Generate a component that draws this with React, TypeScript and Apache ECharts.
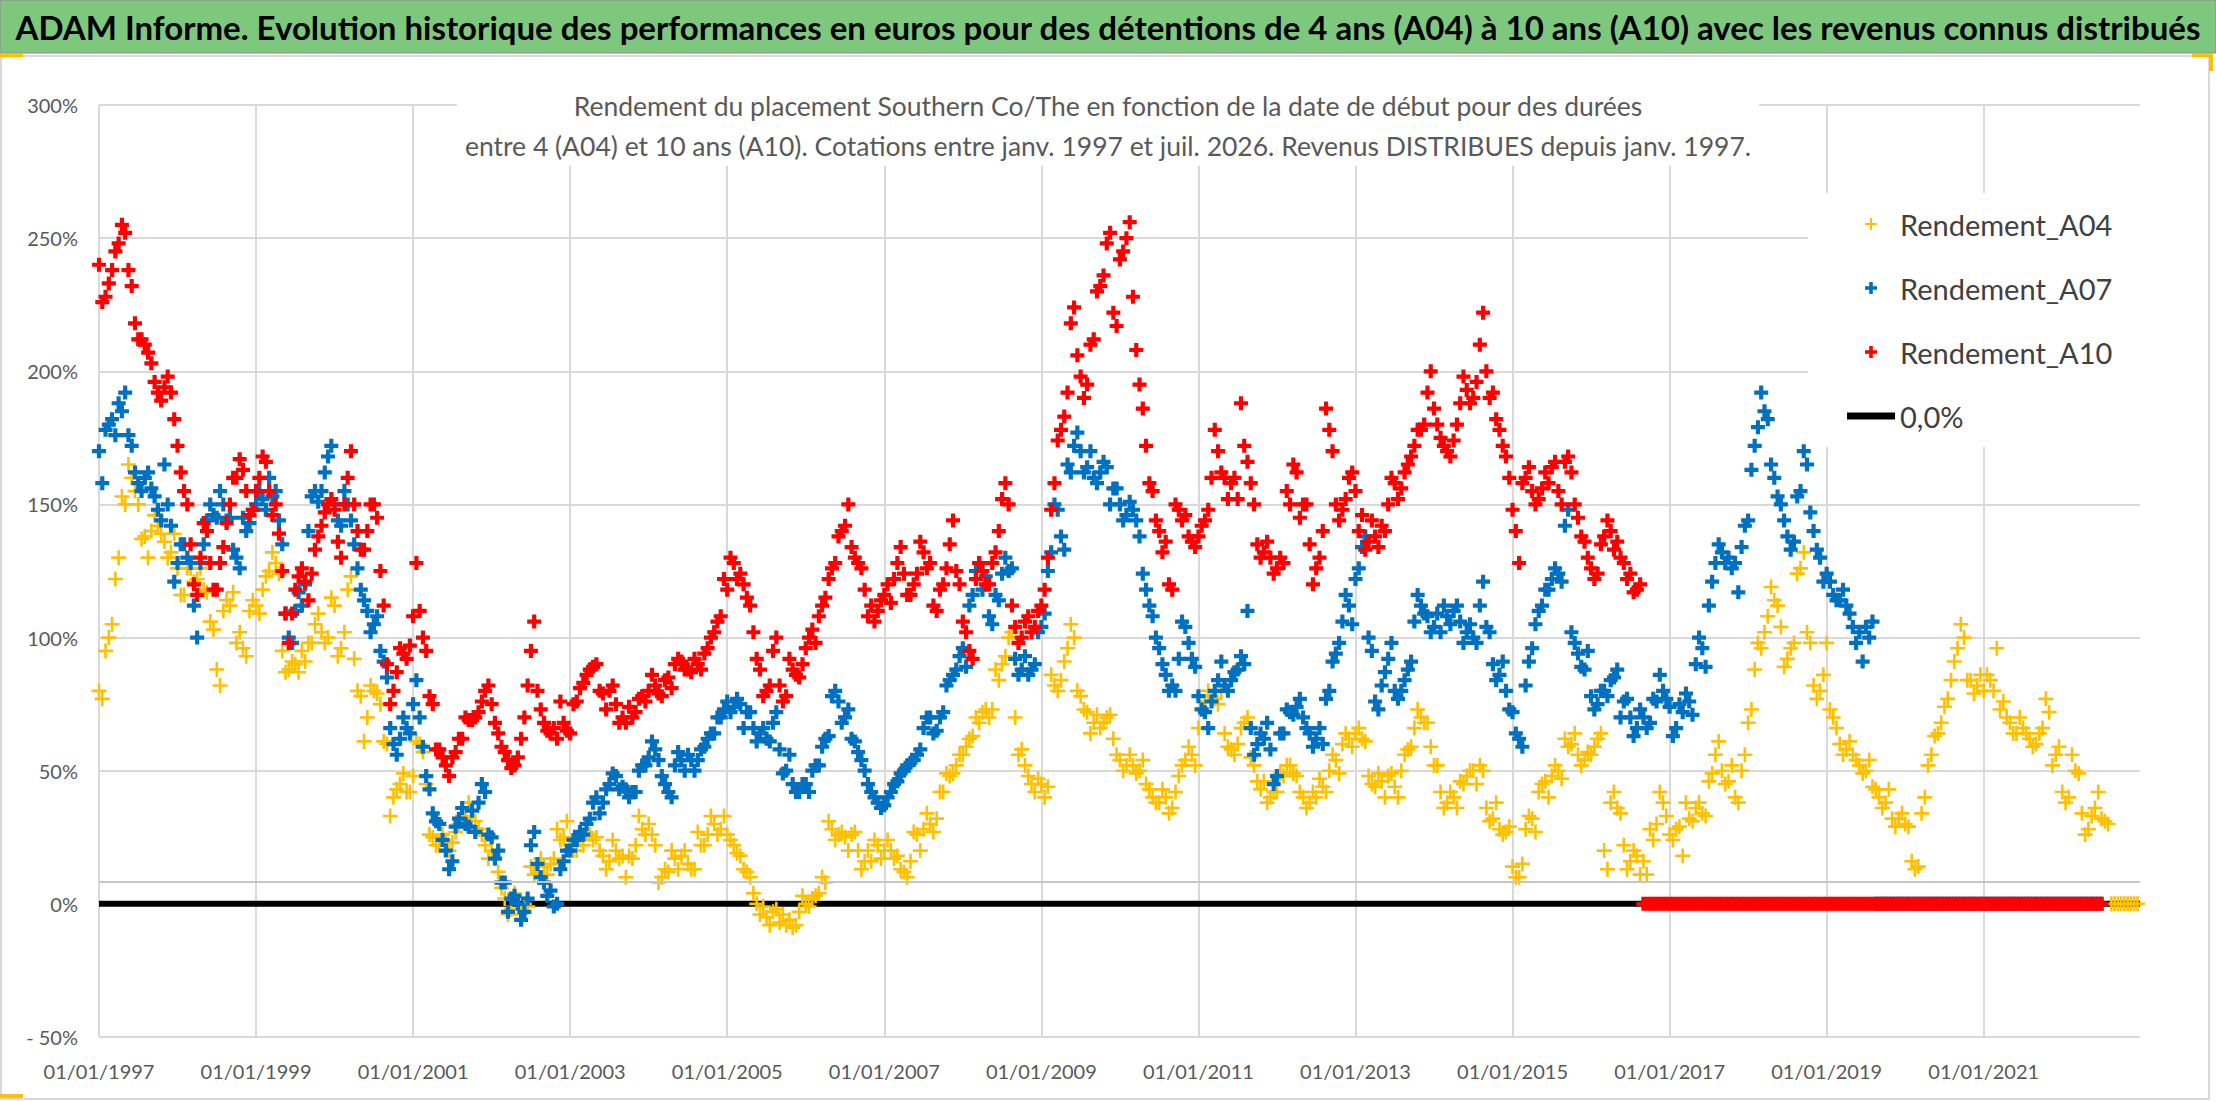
import React, { useEffect, useRef } from "react";
import * as echarts from "echarts";

// ---- Data: start 01/1997, one value per month
//      (…Debut = 1st of month, …Milieu = mid-month) ----
const startYear = 1997;
const endYear = 2022.99;

const rendementA04Debut = [
  80, 95, 105, 130, 150, 160, 150, 138, 140, 142, 136, 132,
  126, 116, 126, 122, 118, 106, 88, 110, 112, 98, 96, 110,
  112, 118, 125, 128, 95, 88, 90, 95, 98, 105, 102, 100,
  112, 96, 118, 92, 78, 70, 80, 75, 60, 40, 45, 42,
  48, 60, 45, 25, 22, 24, 23, 30, 32, 35, 28, 22,
  20, 12, 2, -2, 0, 0, 14, 12, 14, 15, 28, 25,
  22, 20, 22, 26, 25, 18, 16, 20, 18, 18, 22, 28,
  30, 22, 10, 12, 17, 18, 15, 13, 22, 26, 30, 28,
  26, 22, 18, 12, 4, -4, -5, -3, -7, -8, -9, -3,
  0, 2, 4, 8, 28, 26, 25, 26, 20, 16, 16, 22,
  20, 20, 18, 12, 16, 26, 28, 30, 32, 42, 48, 52,
  56, 62, 70, 72, 70, 88, 90, 100, 70, 58, 48, 42,
  45, 44, 82, 84, 96, 100, 78, 72, 68, 66, 70, 62,
  54, 52, 52, 50, 45, 40, 38, 40, 36, 48, 54, 56,
  66, 76, 78, 75, 64, 58, 60, 68, 55, 46, 46, 40,
  42, 48, 52, 48, 40, 38, 40, 44, 50, 54, 60, 62,
  64, 62, 48, 44, 46, 48, 44, 50, 58, 66, 70, 68,
  52, 42, 38, 40, 46, 48, 50, 52, 36, 32, 28, 27,
  14, 10, 28, 32, 42, 46, 48, 50, 62, 60, 56, 54,
  56, 62, 20, 38, 36, 22, 16, 18, 16, 28, 30, 38,
  26, 28, 18, 32, 36, 34, 46, 56, 50, 46, 40, 50,
  68, 88, 96, 108, 114, 104, 92, 98, 126, 102, 82, 80,
  98, 70, 60, 58, 56, 52, 50, 44, 40, 38, 32, 32,
  30, 16, 14, 40, 56, 64, 74, 84, 96, 100, 84, 82,
  80, 84, 96, 76, 68, 64, 66, 62, 60, 66, 72, 56,
  42, 40, 50, 34, 28, 36, 32, 30, 0, 0, 0, 0,
  0,
];

const rendementA04Milieu = [
  77, 100, 122, 153, 165, 155, 137, 130, 146, 139, 130, 139,
  116, 126, 121, 126, 117, 103, 82, 114, 117, 102, 93, 114,
  109, 123, 132, 124, 87, 91, 87, 91, 98, 109, 98, 115,
  93, 102, 123, 80, 61, 82, 79, 61, 33, 43, 49, 42,
  61, 57, 26, 22, 26, 20, 27, 33, 38, 31, 26, 17,
  17, 6, -4, 4, -4, -1, 11, 17, 11, 17, 24, 31,
  20, 24, 27, 24, 20, 13, 24, 17, 10, 17, 33, 26,
  26, 8, 13, 20, 13, 20, 13, 27, 22, 33, 26, 33,
  24, 19, 13, 10, 0, -1, -8, -2, -4, -6, -8, 3,
  -1, 3, 10, 31, 24, 27, 20, 27, 13, 20, 24, 17,
  24, 17, 13, 10, 27, 20, 34, 27, 42, 49, 49, 56,
  59, 63, 68, 73, 73, 84, 93, 102, 56, 52, 45, 47,
  40, 86, 80, 91, 105, 80, 73, 64, 71, 68, 71, 56,
  50, 56, 49, 54, 43, 38, 43, 34, 42, 52, 59, 52,
  73, 80, 77, 80, 59, 56, 66, 70, 52, 43, 38, 42,
  49, 52, 49, 42, 36, 42, 47, 42, 56, 49, 64, 59,
  66, 61, 45, 49, 40, 49, 40, 56, 59, 73, 68, 59,
  52, 36, 42, 36, 45, 50, 45, 50, 31, 38, 26, 29,
  10, 15, 33, 27, 45, 40, 52, 47, 59, 64, 52, 57,
  59, 64, 13, 42, 34, 13, 20, 11, 11, 24, 42, 33,
  24, 29, 38, 31, 38, 33, 49, 61, 45, 52, 38, 56,
  73, 98, 102, 119, 112, 89, 96, 124, 132, 98, 77, 86,
  73, 66, 56, 61, 54, 49, 54, 43, 36, 43, 29, 34,
  29, 13, 34, 52, 63, 68, 77, 91, 105, 84, 79, 86,
  86, 80, 73, 70, 64, 70, 64, 59, 64, 77, 52, 59,
  38, 56, 49, 26, 33, 42, 31, 0, 0, 0, 0, 0,
];

const rendementA07Debut = [
  170, 178, 182, 188, 192, 172, 158, 160, 156, 148, 165, 142,
  128, 135, 128, 100, 135, 150, 145, 150, 145, 130, 145, 143,
  150, 152, 160, 155, 135, 100, 110, 112, 140, 155, 155, 168,
  150, 142, 150, 135, 118, 110, 105, 95, 85, 60, 62, 66,
  75, 70, 48, 34, 30, 20, 16, 32, 30, 35, 38, 42,
  25, 20, 8, 2, 0, -3, 22, 15, 8, 5, 0, 16,
  20, 24, 26, 32, 40, 38, 45, 48, 44, 40, 42, 52,
  55, 58, 48, 42, 52, 54, 56, 50, 58, 62, 64, 70,
  76, 74, 75, 72, 66, 64, 62, 68, 58, 50, 45, 42,
  45, 50, 52, 62, 78, 76, 70, 62, 57, 50, 42, 38,
  37, 42, 46, 50, 53, 56, 66, 70, 65, 72, 84, 88,
  96, 112, 125, 118, 108, 116, 124, 125, 92, 88, 86, 90,
  104, 125, 150, 138, 165, 172, 170, 164, 160, 162, 164, 156,
  150, 146, 148, 138, 118, 108, 96, 86, 82, 92, 104, 92,
  78, 72, 76, 84, 82, 84, 88, 90, 66, 60, 62, 58,
  48, 64, 72, 74, 70, 64, 62, 60, 80, 94, 106, 112,
  122, 134, 100, 76, 82, 92, 80, 80, 88, 106, 112, 108,
  104, 102, 108, 110, 106, 102, 100, 112, 104, 90, 86, 80,
  72, 62, 82, 96, 110, 118, 122, 124, 142, 102, 94, 88,
  78, 75, 80, 84, 88, 76, 70, 66, 70, 68, 76, 80,
  74, 66, 72, 76, 90, 96, 112, 128, 132, 130, 128, 134,
  144, 172, 192, 182, 160, 150, 138, 136, 155, 165, 140, 130,
  124, 116, 114, 112, 104, 102, 104, 106, 0, 0, 0, 0,
  0, 0, 0, 0, 0, 0, 0, 0, 0, 0, 0, 0,
  0, 0, 0, 0, 0, 0, 0, 0, 0, 0, 0, 0,
  0, 0, 0, 0, 0, 0, 0,
];

const rendementA07Milieu = [
  158, 180, 176, 185, 176, 162, 155, 162, 153, 144, 150, 121,
  135, 130, 112, 128, 144, 146, 155, 144, 133, 126, 140, 148,
  155, 148, 153, 144, 109, 98, 117, 120, 153, 151, 162, 172,
  144, 155, 144, 126, 114, 102, 108, 91, 66, 56, 70, 64,
  84, 59, 43, 31, 24, 13, 29, 36, 29, 27, 45, 26,
  17, 8, -3, 3, -6, 2, 27, 10, 3, -1, 13, 20,
  24, 27, 30, 38, 34, 43, 49, 43, 43, 42, 50, 52,
  61, 54, 45, 40, 57, 50, 54, 54, 59, 64, 70, 73,
  72, 77, 66, 72, 61, 66, 61, 72, 49, 56, 42, 45,
  42, 52, 59, 63, 80, 68, 73, 61, 54, 45, 40, 36,
  40, 45, 49, 52, 54, 58, 70, 64, 70, 82, 86, 93,
  89, 116, 128, 123, 105, 114, 130, 126, 86, 93, 88, 102,
  109, 132, 148, 133, 162, 177, 162, 170, 158, 166, 150, 156,
  144, 151, 144, 124, 112, 100, 90, 80, 80, 106, 98, 89,
  73, 66, 80, 91, 80, 87, 93, 110, 56, 64, 68, 45,
  64, 73, 71, 77, 66, 59, 66, 77, 91, 98, 116, 105,
  126, 138, 95, 73, 87, 98, 77, 84, 91, 116, 109, 102,
  109, 112, 105, 112, 98, 105, 98, 121, 102, 84, 91, 73,
  64, 59, 91, 105, 112, 118, 126, 121, 148, 98, 89, 95,
  73, 80, 78, 85, 70, 77, 63, 73, 66, 77, 86, 77,
  63, 75, 79, 71, 100, 89, 121, 135, 128, 126, 117, 142,
  163, 179, 185, 165, 153, 144, 133, 153, 170, 147, 133, 121,
  121, 114, 118, 109, 98, 91, 100, 0, 0, 0, 0, 0,
  0, 0, 0, 0, 0, 0, 0, 0, 0, 0, 0, 0,
  0, 0, 0, 0, 0, 0, 0, 0, 0, 0, 0, 0,
  0, 0, 0, 0, 0, 0,
];

const rendementA10Debut = [
  240, 228, 238, 248, 252, 232, 212, 210, 203, 192, 194, 192,
  172, 155, 135, 116, 143, 128, 118, 134, 150, 160, 163, 146,
  155, 168, 155, 150, 125, 98, 118, 126, 114, 133, 142, 150,
  148, 130, 160, 150, 133, 140, 150, 125, 90, 80, 96, 92,
  108, 110, 95, 75, 58, 52, 55, 62, 70, 69, 72, 80,
  75, 64, 57, 51, 55, 70, 95, 80, 68, 64, 62, 68,
  64, 76, 83, 88, 90, 79, 80, 75, 70, 74, 72, 78,
  80, 82, 78, 85, 90, 91, 88, 92, 88, 96, 102, 108,
  118, 128, 124, 115, 102, 88, 80, 95, 82, 78, 88, 85,
  96, 103, 108, 115, 126, 138, 142, 134, 128, 118, 112, 110,
  116, 113, 128, 124, 116, 124, 132, 128, 110, 120, 135, 125,
  106, 95, 122, 125, 120, 132, 152, 150, 104, 100, 108, 104,
  112, 130, 158, 178, 192, 224, 198, 195, 212, 232, 248, 222,
  242, 250, 228, 195, 172, 155, 140, 136, 118, 148, 146, 136,
  138, 144, 160, 170, 160, 158, 152, 172, 158, 135, 132, 130,
  126, 128, 150, 162, 150, 135, 126, 140, 178, 150, 148, 160,
  155, 146, 136, 138, 142, 150, 158, 156, 165, 172, 178, 192,
  186, 175, 170, 174, 188, 193, 190, 210, 200, 192, 178, 168,
  148, 128, 160, 155, 152, 162, 164, 155, 166, 162, 145, 136,
  126, 124, 138, 140, 136, 128, 124, 118, 0, 0, 0, 0,
  0, 0, 0, 0, 0, 0, 0, 0, 0, 0, 0, 0,
  0, 0, 0, 0, 0, 0, 0, 0, 0, 0, 0, 0,
  0, 0, 0, 0, 0, 0, 0, 0, 0, 0, 0, 0,
  0, 0, 0, 0, 0, 0, 0, 0, 0, 0, 0, 0,
  0, 0, 0, 0, 0, 0, 0, 0, 0, 0, 0, 0,
  0, 0, 0, 0, 0, 0, 0,
];

const rendementA10Milieu = [
  226, 233, 245, 255, 238, 218, 212, 207, 196, 189, 198, 182,
  162, 150, 120, 130, 140, 118, 128, 143, 160, 167, 155, 148,
  160, 166, 146, 139, 109, 109, 123, 121, 124, 138, 147, 152,
  136, 150, 170, 140, 133, 150, 145, 112, 75, 87, 94, 97,
  128, 100, 78, 58, 55, 48, 57, 62, 69, 70, 76, 82,
  68, 59, 54, 52, 62, 82, 106, 73, 65, 66, 76, 65,
  75, 81, 86, 89, 80, 73, 82, 68, 68, 70, 77, 76,
  86, 79, 84, 81, 92, 88, 87, 90, 94, 100, 106, 122,
  130, 122, 120, 112, 92, 78, 82, 100, 76, 92, 86, 90,
  100, 98, 112, 122, 128, 140, 150, 130, 126, 108, 106, 114,
  120, 122, 134, 116, 120, 136, 126, 112, 118, 126, 144, 120,
  102, 92, 128, 120, 128, 140, 158, 112, 98, 106, 102, 110,
  118, 148, 174, 183, 218, 206, 190, 210, 230, 236, 252, 217,
  245, 256, 208, 186, 158, 144, 132, 120, 150, 144, 138, 134,
  142, 148, 178, 162, 152, 160, 188, 166, 150, 130, 136, 124,
  130, 155, 165, 145, 150, 120, 130, 186, 170, 144, 152, 162,
  140, 133, 144, 134, 140, 160, 152, 162, 168, 178, 180, 200,
  180, 172, 168, 180, 198, 188, 196, 222, 190, 182, 172, 160,
  140, 158, 164, 150, 156, 158, 166, 150, 168, 150, 138, 130,
  122, 135, 144, 133, 130, 122, 117, 120, 0, 0, 0, 0,
  0, 0, 0, 0, 0, 0, 0, 0, 0, 0, 0, 0,
  0, 0, 0, 0, 0, 0, 0, 0, 0, 0, 0, 0,
  0, 0, 0, 0, 0, 0, 0, 0, 0, 0, 0, 0,
  0, 0, 0, 0, 0, 0, 0, 0, 0, 0, 0, 0,
  0, 0, 0, 0, 0, 0, 0, 0, 0, 0, 0, 0,
  0, 0, 0, 0, 0, 0,
];

const ligneZeroDates = [startYear, endYear];
const ligneZeroValues = [0, 0];
const seuilGris = 8.2;

const yTicks = [-50, 0, 50, 100, 150, 200, 250, 300];

const seriesNames = ["Rendement_A04", "Rendement_A07", "Rendement_A10", "0,0%"];
const titleText =
  "ADAM Informe. Evolution historique des performances en euros pour des détentions de 4 ans (A04) à 10 ans (A10) avec les revenus connus distribués";
const subtitleText =
  "Rendement du placement Southern Co/The en fonction de la date de début pour des durées\nentre 4 (A04) et 10 ans (A10). Cotations entre janv. 1997 et juil. 2026. Revenus DISTRIBUES depuis janv. 1997.";

// ---- Styles ----
const FONT = 'Lato, "DejaVu Sans", sans-serif';
const PLUS_THICK = "path://M2.8,0H5.2V2.8H8V5.2H5.2V8H2.8V5.2H0V2.8H2.8Z";
const PLUS_THIN = "path://M3.3,0H4.7V3.3H8V4.7H4.7V8H3.3V4.7H0V3.3H3.3Z";
const LINE_ICON = "path://M0,0H48V7H0Z";
const C_A04 = "#FFC000";
const C_A07 = "#0070C0";
const C_A10 = "#FF0000";

const toPoints = (vals: number[], offset: number) =>
  vals.map((v, i) => [startYear + (i + offset) / 12, v]);

export default function App() {
  const ref = useRef<HTMLDivElement>(null);

  useEffect(() => {
    if (!ref.current) return;
    const chart = echarts.init(ref.current, undefined, { renderer: "svg" });

    const option: any = {
      animation: false,
      backgroundColor: "#ffffff",
      textStyle: { fontFamily: FONT },
      graphic: [
        {
          type: "rect",
          z: -10,
          shape: { x: 0, y: 0, width: 2216, height: 53 },
          style: { fill: "#7EC87E", stroke: "#8a8a8a", lineWidth: 1 },
        },
        {
          type: "rect",
          z: -10,
          shape: { x: 1, y: 56, width: 2208, height: 1043 },
          style: { fill: "none", stroke: "#d9d9d9", lineWidth: 2 },
        },
        { type: "rect", z: 10, shape: { x: 0, y: 53, width: 23, height: 4 }, style: { fill: "#FFC000" } },
        { type: "rect", z: 10, shape: { x: 0, y: 1094, width: 23, height: 4 }, style: { fill: "#FFC000" } },
        { type: "rect", z: 10, shape: { x: 2192, y: 53, width: 21, height: 4 }, style: { fill: "#FFC000" } },
        { type: "rect", z: 10, shape: { x: 2209, y: 53, width: 4, height: 18 }, style: { fill: "#FFC000" } },
      ],
      title: [
        {
          text: titleText,
          left: "center",
          top: 7,
          padding: 0,
          textStyle: {
            fontFamily: FONT,
            fontSize: 33,
            fontWeight: "bold",
            color: "#000000",
            lineHeight: 40,
          },
        },
        {
          text: subtitleText,
          left: "center",
          top: 86,
          padding: [0, 8, 0, 8],
          backgroundColor: "#ffffff",
          textStyle: {
            fontFamily: FONT,
            fontSize: 26.5,
            fontWeight: "normal",
            color: "#595959",
            lineHeight: 40,
          },
        },
      ],
      legend: {
        orient: "vertical",
        left: 1808,
        top: 193,
        padding: [16, 30, 16, 39],
        itemGap: 34,
        itemWidth: 48,
        itemHeight: 12,
        symbolKeepAspect: true,
        backgroundColor: "#ffffff",
        textStyle: { fontFamily: FONT, fontSize: 29, color: "#404040", lineHeight: 30 },
        data: [
          { name: seriesNames[0], icon: PLUS_THIN },
          { name: seriesNames[1], icon: PLUS_THICK },
          { name: seriesNames[2], icon: PLUS_THICK },
          { name: seriesNames[3], icon: LINE_ICON },
        ],
      },
      grid: { left: 99, right: 76, top: 105, bottom: 65, containLabel: false },
      xAxis: {
        type: "value",
        min: startYear,
        max: endYear,
        interval: 2,
        axisLine: { show: false },
        axisTick: { show: false },
        axisLabel: {
          color: "#595959",
          fontSize: 20,
          fontFamily: FONT,
          margin: 24,
          showMaxLabel: false,
          formatter: (v: number) => (Number.isInteger(v) ? `01/01/${v}` : ""),
        },
        splitLine: { show: true, showMaxLine: false, lineStyle: { color: "#d9d9d9", width: 2 } },
      },
      yAxis: {
        type: "value",
        min: yTicks[0],
        max: yTicks[yTicks.length - 1],
        interval: 50,
        axisLine: { show: false },
        axisTick: { show: false },
        axisLabel: {
          color: "#595959",
          fontSize: 20,
          fontFamily: FONT,
          margin: 21,
          formatter: (v: number) => (v < 0 ? `- ${Math.abs(v)}%` : `${v}%`),
        },
        splitLine: { show: true, lineStyle: { color: "#d9d9d9", width: 2 } },
      },
      series: [
        {
          name: seriesNames[3],
          type: "line",
          z: 1,
          showSymbol: false,
          symbol: "none",
          data: ligneZeroDates.map((d, i) => [d, ligneZeroValues[i]]),
          lineStyle: { color: "#000000", width: 6 },
          itemStyle: { color: "#000000" },
          markLine: {
            silent: true,
            symbol: "none",
            label: { show: false },
            lineStyle: { color: "#c6c6c6", width: 2, type: "solid" },
            data: [{ yAxis: seuilGris }],
          },
        },
        {
          name: seriesNames[0],
          type: "scatter",
          z: 2,
          symbol: PLUS_THIN,
          symbolSize: 15,
          symbolKeepAspect: true,
          itemStyle: { color: C_A04, opacity: 1 },
          data: [...toPoints(rendementA04Debut, 0), ...toPoints(rendementA04Milieu, 0.5)],
        },
        {
          name: seriesNames[1],
          type: "scatter",
          z: 2,
          symbol: PLUS_THICK,
          symbolSize: 14,
          symbolKeepAspect: true,
          itemStyle: { color: C_A07, opacity: 1 },
          data: [...toPoints(rendementA07Debut, 0), ...toPoints(rendementA07Milieu, 0.5)],
        },
        {
          name: seriesNames[2],
          type: "scatter",
          z: 2,
          symbol: PLUS_THICK,
          symbolSize: 14,
          symbolKeepAspect: true,
          itemStyle: { color: C_A10, opacity: 1 },
          data: [...toPoints(rendementA10Debut, 0), ...toPoints(rendementA10Milieu, 0.5)],
        },
      ],
    };

    chart.setOption(option);
    return () => chart.dispose();
  }, []);

  return (
    <div
      ref={ref}
      style={{ position: "absolute", left: 0, top: 0, width: 2216, height: 1102 }}
    />
  );
}
